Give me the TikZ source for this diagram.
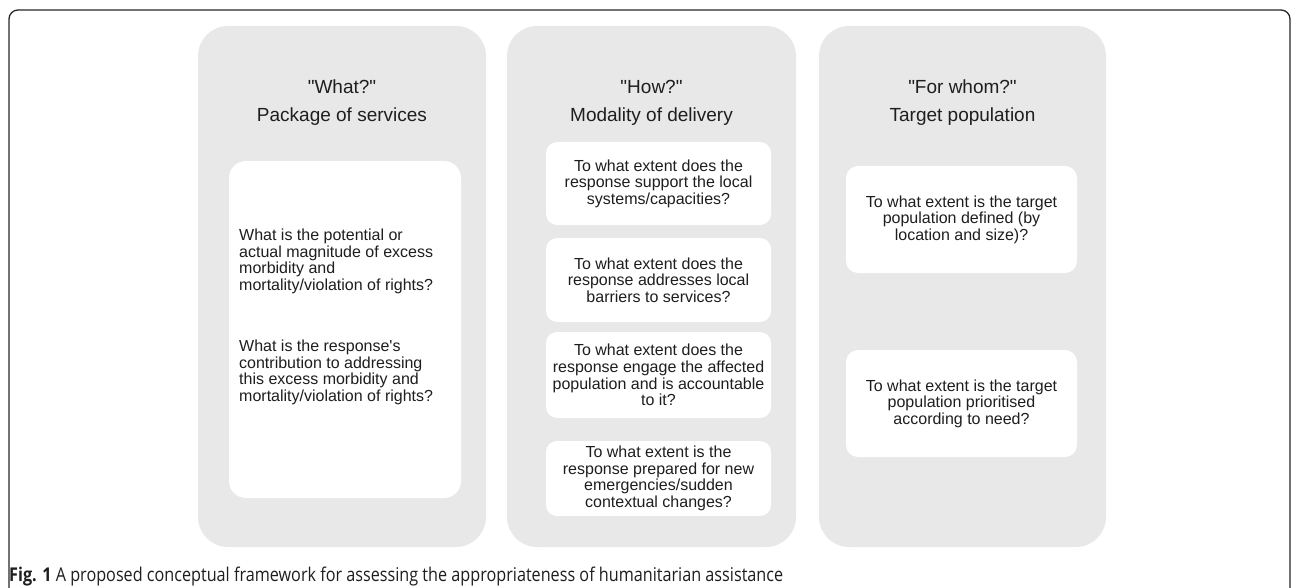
\documentclass[tikz,border=0pt]{standalone}
\usepackage{fontspec}
\usepackage{graphicx}
\setmainfont{Liberation Sans}[Ligatures=TeXOff]
\newfontfamily\capfont{Open Sans}
\definecolor{panelgray}{HTML}{E8E8E8}
\definecolor{inktext}{HTML}{1E1E1E}
\begin{document}
\begin{tikzpicture}[x=1pt,y=-1pt,
  panel/.style={fill=panelgray,draw=none,rounded corners=30pt},
  qbox/.style={fill=white,draw=none,rounded corners=11pt,inner sep=0pt,
    align=center,text=inktext,font=\fontsize{16}{16.6}\selectfont},
  qtext/.style={inner sep=0pt,align=left,text=inktext,font=\fontsize{16}{16.6}\selectfont},
  head/.style={inner sep=0pt,align=center,text=inktext,font=\fontsize{19}{28}\selectfont}]
\useasboundingbox (0,0) rectangle (1292,588);

% outer frame, open at the bottom
\coordinate (fbl) at (9,600);
\coordinate (ftl) at (9,10);
\coordinate (ftr) at (1290,10);
\coordinate (fbr) at (1290,600);
\draw[line width=1.3pt,rounded corners=9pt,color=black!85] (fbl) -- (ftl) -- (ftr) -- (fbr);

% three grey panels
\path[panel] (198,26) rectangle (486,547);
\path[panel] (507,26) rectangle (796,547);
\path[panel] (819,26) rectangle (1106,547);

% panel headings
\node[head] (hwhat) at (342,103) {"What?"\\Package of services};
\node[head] (hhow) at (651.5,103) {"How?"\\Modality of delivery};
\node[head] (hwho) at (962.5,103) {"For whom?"\\Target population};

% package of services
\node[qbox,rounded corners=17pt,minimum width=232pt,minimum height=337pt] (pkg) at (345,329.5) {};
\node[qtext,anchor=west] (pkgA) at (239,261.5) {What is the potential or\\actual magnitude of excess\\morbidity and\\mortality/violation of rights?};
\node[qtext,anchor=west] (pkgB) at (239,372.5) {What is the response's\\contribution to addressing\\this excess morbidity and\\mortality/violation of rights?};

% modality of delivery
\node[qbox,minimum width=225pt,minimum height=83pt] (mod1) at (658.5,183.5)
  {To what extent does the\\response support the local\\systems/capacities?};
\node[qbox,minimum width=225pt,minimum height=84pt] (mod2) at (658.5,280)
  {To what extent does the\\response addresses local\\barriers to services?};
\node[qbox,minimum width=225pt,minimum height=86pt] (mod3) at (658.5,375)
  {To what extent does the\\response engage the affected\\population and is accountable\\to it?};
\node[qbox,minimum width=225pt,minimum height=75pt] (mod4) at (658.5,478.5)
  {To what extent is the\\response prepared for new\\emergencies/sudden\\contextual changes?};

% target population
\node[qbox,rounded corners=12pt,minimum width=231pt,minimum height=107pt] (tgt1) at (961.5,219.5)
  {To what extent is the target\\population defined (by\\location and size)?};
\node[qbox,rounded corners=12pt,minimum width=231pt,minimum height=107pt] (tgt2) at (961.5,403.5)
  {To what extent is the target\\population prioritised\\according to need?};

% caption
\node[anchor=base west,inner sep=0pt,text=inktext] (cap) at (9,581)
  {\resizebox{774pt}{\height}{\capfont\fontsize{19}{22}\selectfont\textbf{Fig. 1} A proposed conceptual framework for assessing the appropriateness of humanitarian assistance}};
\end{tikzpicture}
\end{document}
